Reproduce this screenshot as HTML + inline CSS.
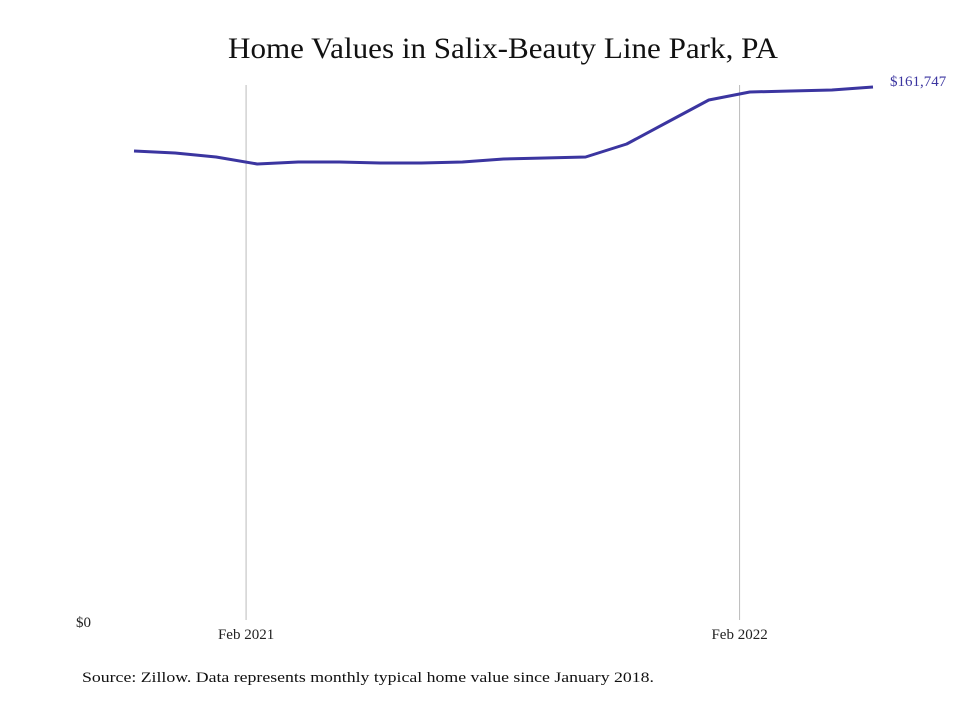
<!DOCTYPE html>
<html><head><meta charset="utf-8"><style>
body{margin:0;background:#fff;}
svg text{font-family:"Liberation Serif",serif;}
</style></head><body>
<svg width="980" height="699" viewBox="0 0 980 699" xmlns="http://www.w3.org/2000/svg">
<rect width="980" height="699" fill="#fff"/>
<text x="228" y="58" font-size="30" textLength="550" lengthAdjust="spacingAndGlyphs" fill="#111">Home Values in Salix-Beauty Line Park, PA</text>
<g id="grid"></g>
<g id="axis"></g>
<path id="line" fill="none" stroke="#3b35a0" stroke-width="3" stroke-linejoin="round"/>
<text x="890" y="86" font-size="15" fill="#3b35a0" id="endlabel">$161,747</text>
<text x="82" y="682" font-size="15" textLength="572" lengthAdjust="spacingAndGlyphs" fill="#111">Source: Zillow. Data represents monthly typical home value since January 2018.</text>
</svg>
<script>
const months = ["Nov 2020","Dec 2020","Jan 2021","Feb 2021","Mar 2021","Apr 2021","May 2021","Jun 2021","Jul 2021","Aug 2021","Sep 2021","Oct 2021","Nov 2021","Dec 2021","Jan 2022","Feb 2022","Mar 2022","Apr 2022","May 2022"];
const values = [142330,141720,140510,138380,138990,138990,138690,138690,138990,139900,140200,140510,144450,151130,157800,160230,160540,160840,161747];
const xTickLabels = ["Feb 2021","Feb 2022"];
const xTickPositions = [2.73,14.75];
const yTickLabels = ["$0"];
const yTickValues = [0];

const ns="http://www.w3.org/2000/svg";
const x0=134, x1=873, y0=620, yTop=87;
const maxV=161747;
function xs(i){return x0+(x1-x0)*i/(months.length-1);}
function ys(v){return y0-(y0-yTop)*v/maxV;}

const grid=document.getElementById('grid');
xTickLabels.forEach((lab,k)=>{
  const x=xs(xTickPositions[k]);
  const l=document.createElementNS(ns,'line');
  l.setAttribute('x1',x);l.setAttribute('x2',x);l.setAttribute('y1',85);l.setAttribute('y2',620);
  l.setAttribute('stroke','#bbb');l.setAttribute('stroke-width','1');
  
  
  grid.appendChild(l);
  const t=document.createElementNS(ns,'text');
  t.setAttribute('x',x);t.setAttribute('y',639);t.setAttribute('font-size','15');
  t.setAttribute('text-anchor','middle');t.setAttribute('fill','#222');
  t.textContent=lab;
  
  
  grid.appendChild(t);
});
const axis=document.getElementById('axis');
yTickLabels.forEach((lab,k)=>{
  const t=document.createElementNS(ns,'text');
  t.setAttribute('x',76);t.setAttribute('y',ys(yTickValues[k])+7);t.setAttribute('font-size','15');
  t.setAttribute('fill','#222');
  t.textContent=lab;
  
  
  axis.appendChild(t);
});
document.getElementById('line').setAttribute('d',values.map((v,i)=>(i?'L':'M')+xs(i).toFixed(1)+' '+ys(v).toFixed(1)).join(' '));
const el=document.getElementById('endlabel');
el.setAttribute('y',ys(values[values.length-1])-1);
el.textContent='$'+values[values.length-1].toLocaleString('en-US');
</script>
</body></html>
